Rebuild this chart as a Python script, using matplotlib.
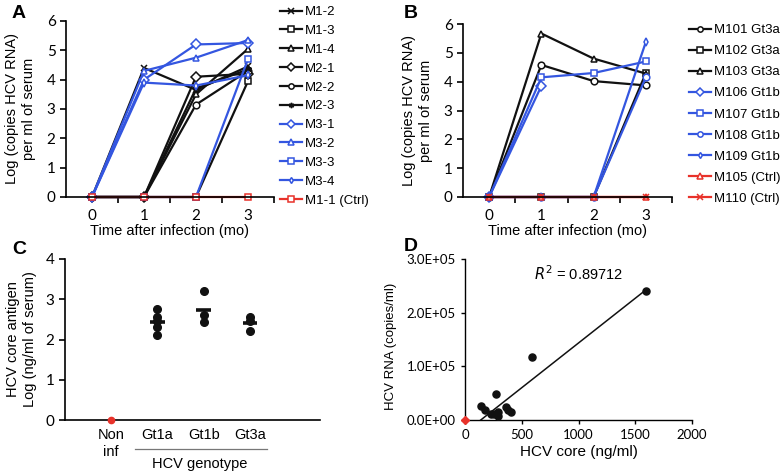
import numpy as np
import matplotlib.pyplot as plt

plt.rcParams['font.family'] = ['Liberation Sans', 'DejaVu Sans']

BLACK = '#111111'
BLUE = '#3456e0'
RED = '#e8322a'

# ---- panel A data
months = [0, 1, 2, 3]
a_names = ['M1-2', 'M1-3', 'M1-4', 'M2-1', 'M2-2', 'M2-3',
           'M3-1', 'M3-2', 'M3-3', 'M3-4', 'M1-1 (Ctrl)']
a_vals = [
    [0, 4.4, 3.65, 4.45],
    [0, 0, 0, 3.95],
    [0, 0, 3.5, 5.05],
    [0, 0, 4.1, 4.2],
    [0, 0, 3.15, 4.3],
    [0, 0, 3.7, 4.35],
    [0, 4.0, 5.2, 5.25],
    [0, 4.3, 4.75, 5.35],
    [0, 0, 0, 4.7],
    [0, 3.9, 3.8, 4.15],
    [0, 0, 0, 0],
]
a_colors = [BLACK]*6 + [BLUE]*4 + [RED]
a_markers = ['x', 's', '^', 'D', 'o', (6, 2, 0), 'D', '^', 's', 'd', 's']

# ---- panel B data
b_names = ['M101 Gt3a', 'M102 Gt3a', 'M103 Gt3a', 'M106 Gt1b', 'M107 Gt1b',
           'M108 Gt1b', 'M109 Gt1b', 'M105 (Ctrl)', 'M110 (Ctrl)']
b_vals = [
    [0, 4.58, 4.02, 3.87],
    [0, 0, 0, 4.3],
    [0, 5.67, 4.8, 4.28],
    [0, 3.85, np.nan, np.nan],
    [0, 4.15, 4.3, 4.7],
    [0, 0, 0, 4.15],
    [0, 0, 0, 5.38],
    [0, 0, 0, 0],
    [0, 0, 0, 0],
]
b_colors = [BLACK]*3 + [BLUE]*4 + [RED]*2
b_markers = ['o', 's', '^', 'D', 's', 'o', 'd', '^', 'x']

# ---- panel C data
c_groups = ['Non\ninf', 'Gt1a', 'Gt1b', 'Gt3a']
c_vals = [
    [0.0],
    [2.75, 2.55, 2.45, 2.3, 2.12],
    [3.2, 2.6, 2.43],
    [2.55, 2.45, 2.2],
]

# ---- panel D data
d_core = [1593, 590, 276, 145, 177, 227, 256, 291, 294, 363, 381, 401]
d_rna = [2.41e5, 1.18e5, 4.8e4, 2.7e4, 1.9e4, 1.1e4, 1.05e4, 1.4e4, 7e3, 2.5e4, 1.9e4, 1.5e4]
d_r2 = 0.89712

fig = plt.figure(figsize=(7.82, 4.76), dpi=100)


def W(px):
    return px / 782


def H(px):
    return 1 - px / 476


def time_axes(ax):
    for s in ['top', 'right']:
        ax.spines[s].set_visible(False)
    for s in ['left', 'bottom']:
        ax.spines[s].set_linewidth(1.2)
    ax.set_xlim(-0.5, 3.5)
    ax.set_ylim(0, 6)
    ax.set_xticks(months)
    ax.set_xticks([0.5, 1.5, 2.5, 3.5], minor=True)
    ax.tick_params(axis='x', which='major', length=0, pad=9)
    ax.tick_params(axis='x', which='minor', length=4, width=1.2, direction='out')
    ax.tick_params(axis='y', length=4, width=1.2, direction='out')
    for lab in ax.get_xticklabels() + ax.get_yticklabels():
        lab.set_fontfamily('Lato')
        lab.set_fontsize(11)
    ax.set_xlabel('Time after infection (mo)', fontsize=10.5, labelpad=0)
    ax.set_ylabel('Log (copies HCV RNA)\nper ml of serum', fontsize=10.5, labelpad=8)


def draw_lines(ax, vals, colors, markers, names):
    handles = []
    for v, c, m, n in zip(vals, colors, markers, names):
        ms = 3.8 if m == 'd' else 4.8
        h, = ax.plot(months, v, color=c, marker=m, ms=ms, mfc='white', mec=c,
                     mew=1.1, lw=1.6, clip_on=False, label=n)
        handles.append(h)
    return handles


# ---- A
axA = fig.add_axes([W(66), H(197), W(274) - W(66), H(21) - H(197)])
time_axes(axA)
hA = draw_lines(axA, a_vals, a_colors, a_markers, a_names)
fig.legend(handles=hA, loc='upper left', bbox_to_anchor=(W(280), H(6)),
           frameon=False, fontsize=9.5, handlelength=1.7, handletextpad=0.2,
           labelspacing=0.5, borderpad=0, borderaxespad=0, markerscale=0.8)
fig.text(W(12), H(14), 'A', fontsize=14, fontweight='bold', va='center')

# ---- B
axB = fig.add_axes([W(463), H(197), W(672) - W(463), H(24) - H(197)])
time_axes(axB)
hB = draw_lines(axB, b_vals, b_colors, b_markers, b_names)
fig.legend(handles=hB, loc='upper left', bbox_to_anchor=(W(689), H(24)),
           frameon=False, fontsize=9.5, handlelength=1.7, handletextpad=0.2,
           labelspacing=0.67, borderpad=0, borderaxespad=0, markerscale=0.8)
fig.text(W(404), H(14), 'B', fontsize=14, fontweight='bold', va='center')

# ---- C
axC = fig.add_axes([W(65), H(420), W(320) - W(65), H(259) - H(420)])
for s in ['top', 'right']:
    axC.spines[s].set_visible(False)
for s in ['left', 'bottom']:
    axC.spines[s].set_linewidth(1.2)
axC.set_xlim(-0.99, 4.51)
axC.set_ylim(0, 4)
axC.set_yticks([0, 1, 2, 3, 4])
axC.tick_params(axis='y', length=4, width=1.2, direction='out')
axC.set_xticks(range(len(c_groups)))
axC.set_xticklabels(c_groups, fontsize=10.5)
axC.tick_params(axis='x', length=0, pad=6)
for lab in axC.get_yticklabels():
    lab.set_fontfamily('Lato')
    lab.set_fontsize(11)
for i, v in enumerate(c_vals):
    col = RED if i == 0 else BLACK
    axC.plot([i]*len(v), v, 'o', color=col, ms=5.5 if i else 4.5, clip_on=False, zorder=3)
    if i > 0:
        axC.hlines(np.mean(v), i - 0.16, i + 0.16, color=BLACK, lw=2.6, zorder=4)
axC.plot([0.52, 3.37], [-0.18, -0.18], color='#777777', lw=0.9,
         transform=axC.get_xaxis_transform(), clip_on=False)
axC.text(1.92, -0.275, 'HCV genotype', transform=axC.get_xaxis_transform(),
         ha='center', va='center', fontsize=10.5)
axC.set_ylabel('HCV core antigen\nLog (ng/ml of serum)', fontsize=10.5,
               labelpad=6, linespacing=1.35)
fig.text(W(12), H(250), 'C', fontsize=14, fontweight='bold', va='center')

# ---- D
axD = fig.add_axes([W(465), H(420), W(692) - W(465), H(259) - H(420)])
for s in ['top', 'right']:
    axD.spines[s].set_visible(False)
for s in ['left', 'bottom']:
    axD.spines[s].set_linewidth(1.0)
axD.set_xlim(0, 2000)
axD.set_ylim(0, 3e5)
axD.set_xticks([0, 500, 1000, 1500, 2000])
axD.set_yticks([0, 1e5, 2e5, 3e5])
axD.set_yticklabels(['0.0E+00', '1.0E+05', '2.0E+05', '3.0E+05'])
axD.tick_params(length=3, width=1.0, direction='out', labelsize=9.5)
for lab in axD.get_yticklabels() + axD.get_xticklabels():
    lab.set_fontfamily('Lato')
axD.scatter(d_core, d_rna, s=26, color=BLACK, zorder=3, clip_on=False)
axD.plot([0], [0], 'D', color=RED, ms=4.5, clip_on=False, zorder=4)
slope, icpt = np.polyfit(d_core, d_rna, 1)
x0 = max(-icpt / slope, 0)
xs = np.array([x0, max(d_core)])
axD.plot(xs, slope * xs + icpt, color=BLACK, lw=1.1)
axD.text(1000, 2.72e5, '$R^2$ = %.5f' % d_r2, ha='center', va='center', fontsize=10.5)
axD.set_xlabel('HCV core (ng/ml)', fontsize=11, labelpad=3)
axD.set_ylabel('HCV RNA (copies/ml)', fontsize=9.5, labelpad=5)
axD.yaxis.set_label_coords(-0.3, 0.46)
fig.text(W(404), H(246), 'D', fontsize=14, fontweight='bold', va='center')

fig.savefig('out.png', dpi=100)
